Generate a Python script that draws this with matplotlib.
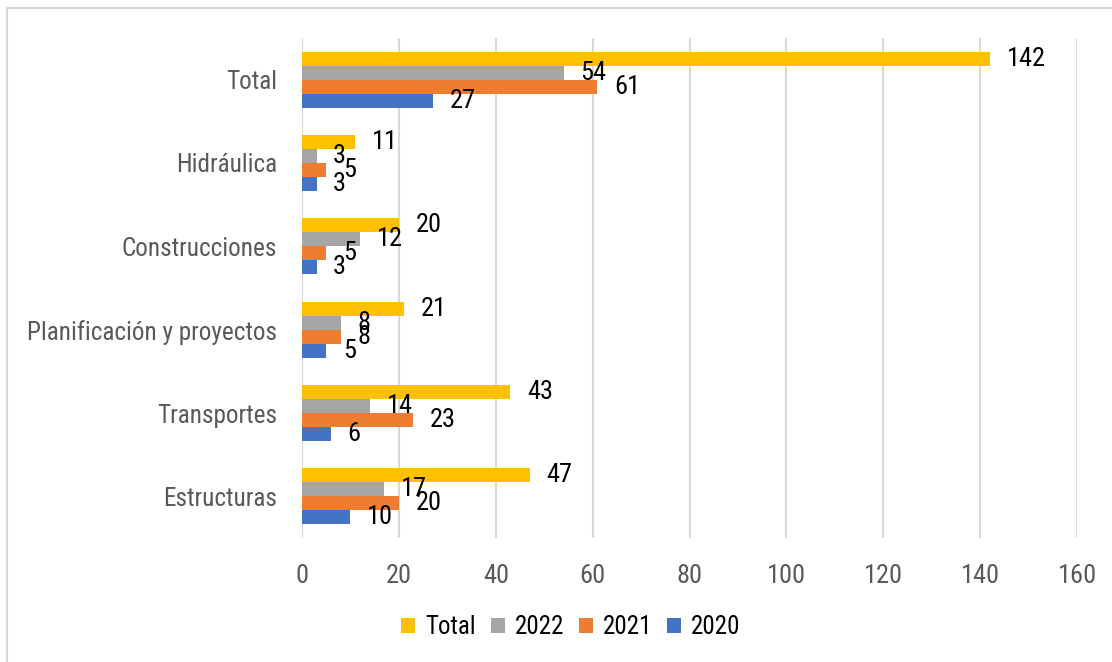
import numpy as np
import matplotlib.pyplot as plt
from matplotlib.patches import Rectangle

# categorias (de abajo hacia arriba) y valores por serie
categorias = ['Estructuras', 'Transportes', 'Planificación y proyectos',
              'Construcciones', 'Hidráulica', 'Total']
total = [47, 43, 21, 20, 11, 142]
v2022 = [17, 14, 8, 12, 3, 54]
v2021 = [20, 23, 8, 5, 5, 61]
v2020 = [10, 6, 5, 3, 3, 27]

series = [('Total', total, '#FFC000'),
          ('2022', v2022, '#A5A5A5'),
          ('2021', v2021, '#ED7D31'),
          ('2020', v2020, '#4472C4')]

plt.rcParams['font.family'] = ['Roboto Condensed', 'DejaVu Sans']
fs = 19

fig = plt.figure(figsize=(11.12, 6.62), dpi=100)
ax = fig.add_axes([302 / 1112, 1 - 538 / 662, 775 / 1112, 500 / 662])

y = np.arange(len(categorias))
h = 0.168
offsets = [1.5, 0.5, -0.5, -1.5]

for (nombre, valores, color), off in zip(series, offsets):
    pos = y + off * h
    ax.barh(pos, valores, height=h, color=color, label=nombre, zorder=2)
    for p, v in zip(pos, valores):
        ax.annotate(str(v), (v, p), xytext=(12, 0), textcoords='offset points',
                    ha='left', va='center', fontsize=fs, color='black', zorder=3)

ax.set_xlim(0, 160)
ax.set_ylim(-0.5, 5.5)
ax.set_xticks(np.arange(0, 161, 20))
ax.set_yticks(y)
ax.set_yticklabels(categorias)
ax.tick_params(axis='x', length=0, pad=19, labelsize=fs, labelcolor='#595959')
ax.tick_params(axis='y', length=0, pad=18, labelsize=18.2, labelcolor='#595959')
ax.grid(axis='x', color='#D9D9D9', linewidth=1.5, zorder=0)
for s in ax.spines.values():
    s.set_visible(False)

fig.legend(loc='center', bbox_to_anchor=(571 / 1112, 1 - 627 / 662), ncol=4,
           frameon=False, fontsize=18, handlelength=0.55, handleheight=0.55,
           handletextpad=0.4, columnspacing=0.6)

# borde del area del grafico
fig.patches.append(Rectangle((7 / 1112, -0.1), 1.2, 1 - 8 / 662 + 0.1,
                             transform=fig.transFigure, fill=False,
                             edgecolor='#D9D9D9', linewidth=1.5))

fig.savefig('out.png', dpi=100)
